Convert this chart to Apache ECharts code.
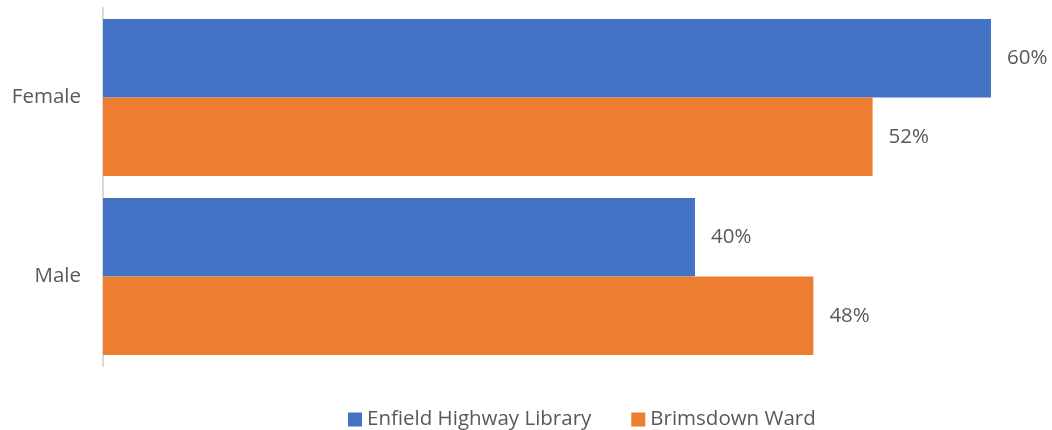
<!DOCTYPE html>
<html><head><meta charset="utf-8">
<script src="https://cdn.jsdelivr.net/npm/echarts@6/dist/echarts.min.js"></script>
<style>html,body{margin:0;padding:0;background:#fff}#c{width:1052px;height:430px}</style>
</head><body><div id="c"></div>
<script>
const categories = ['Female', 'Male'];
const seriesNames = ['Enfield Highway Library', 'Brimsdown Ward'];
const enfieldValues = [60, 40];
const brimsdownValues = [52, 48];

const FONT = 'Open Sans';
const TXT = '#595959';
const FS = 20.5;
const chart = echarts.init(document.getElementById('c'), null, {renderer: 'canvas'});
const lbl = {show: true, position: 'right', distance: 16, formatter: p => p.value + '%', color: TXT, fontFamily: FONT, fontSize: FS};
chart.setOption({
  animation: false,
  textStyle: {fontFamily: FONT},
  grid: {left: 103, top: 8, bottom: 64, width: 888, containLabel: false},
  legend: {
    top: 404, left: 343, itemWidth: 14, itemHeight: 14, itemGap: 40, icon: 'rect',
    textStyle: {color: TXT, fontFamily: FONT, fontSize: FS},
    data: seriesNames
  },
  xAxis: {type: 'value', min: 0, max: 60, show: false},
  yAxis: {
    type: 'category', data: categories, inverse: true,
    axisLine: {show: true, lineStyle: {color: '#d9d9d9', width: 2}},
    axisTick: {show: false},
    axisLabel: {color: TXT, fontFamily: FONT, fontSize: FS, margin: 22}
  },
  series: [
    {name: seriesNames[0], type: 'bar', data: enfieldValues, itemStyle: {color: '#4472C4'}, barGap: '0%', barCategoryGap: '12.3%', label: lbl},
    {name: seriesNames[1], type: 'bar', data: brimsdownValues, itemStyle: {color: '#ED7D31'}, barGap: '0%', barCategoryGap: '12.3%', label: lbl}
  ]
});
</script></body></html>
